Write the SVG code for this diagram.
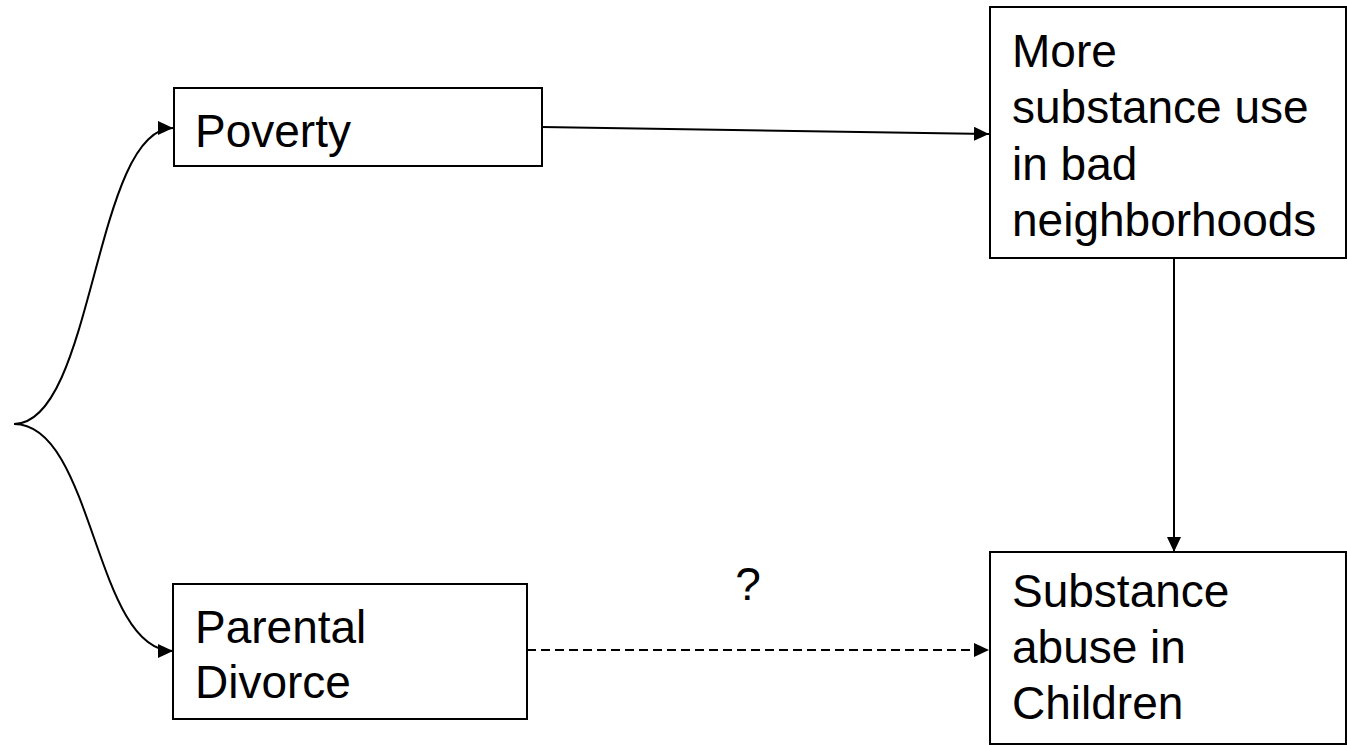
<svg xmlns="http://www.w3.org/2000/svg" width="1347" height="745" viewBox="0 0 1347 745">
  <style>
    .box { fill: #ffffff; stroke: #000000; stroke-width: 2; }
    .label { font-family: "Liberation Sans", Arial, sans-serif; font-size: 46px; fill: #000000; }
    .link { fill: none; stroke: #000000; stroke-width: 2; }
    .dashed { stroke-dasharray: 9 5; }
  </style>
  <defs>
    <marker id="arrow" viewBox="0 0 15 14" refX="15" refY="7" markerWidth="15" markerHeight="14" markerUnits="userSpaceOnUse" orient="auto">
      <path d="M0,0 L15,7 L0,14 Z" fill="#000000"/>
    </marker>
  </defs>
  <rect width="1347" height="745" fill="#ffffff"/>

  <g id="connectors">
    <!-- brace splitting into the two causes -->
    <path class="link" d="M14,424 C94,424 94,128 173,128" marker-end="url(#arrow)"/>
    <path class="link" d="M14,424 C94,424 94,651 173,651" marker-end="url(#arrow)"/>
    <!-- poverty to neighbourhood substance use -->
    <path class="link" d="M542,127 L989,134" marker-end="url(#arrow)"/>
    <!-- neighbourhood to children -->
    <path class="link" d="M1174,258 L1174,552" marker-end="url(#arrow)"/>
    <!-- uncertain divorce link -->
    <path class="link dashed" d="M527,650 L989,650" marker-end="url(#arrow)"/>
    <text class="label" x="748" y="600" text-anchor="middle">?</text>
  </g>

  <g id="poverty">
    <rect class="box" x="174" y="88" width="368" height="78"/>
    <text class="label" x="195" y="147">Poverty</text>
  </g>

  <g id="divorce">
    <rect class="box" x="173" y="584" width="354" height="135"/>
    <text class="label" x="195" y="643">Parental</text>
    <text class="label" x="195" y="698">Divorce</text>
  </g>

  <g id="neighborhood">
    <rect class="box" x="990" y="7" width="356" height="251"/>
    <text class="label" x="1012" y="67">More</text>
    <text class="label" x="1012" y="123">substance use</text>
    <text class="label" x="1012" y="180">in bad</text>
    <text class="label" x="1012" y="236">neighborhoods</text>
  </g>

  <g id="children">
    <rect class="box" x="990" y="552" width="356" height="192"/>
    <text class="label" x="1012" y="607">Substance</text>
    <text class="label" x="1012" y="663">abuse in</text>
    <text class="label" x="1012" y="719">Children</text>
  </g>
</svg>
